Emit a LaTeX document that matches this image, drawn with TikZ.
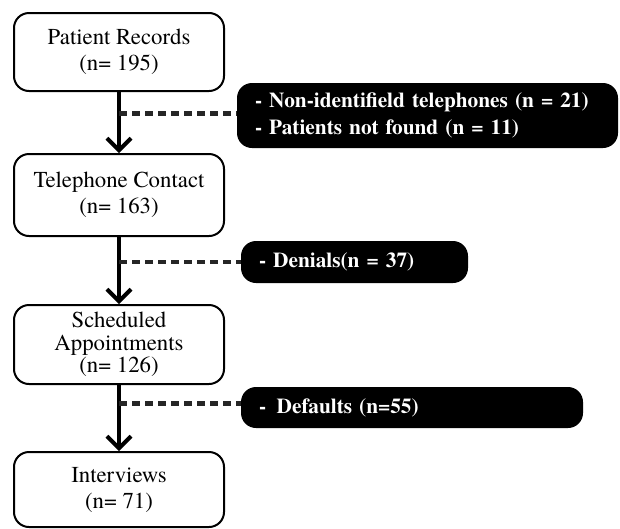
\documentclass[tikz,border=0pt]{standalone}
\usepackage{fontspec}
\setmainfont{texgyretermes}[Extension=.otf, UprightFont=*-regular, BoldFont=*-bold, ItalicFont=*-italic, BoldItalicFont=*-bolditalic]
\usetikzlibrary{arrows.meta}
\begin{document}
\begin{tikzpicture}[x=1pt,y=-1pt,
  stage/.style={draw=black, line width=2pt, rounded corners=15pt, fill=white,
    minimum width=210pt, align=center, inner sep=0pt,
    font=\fontsize{22.8}{26}\selectfont},
  excl/.style={fill=black, rounded corners=15pt, text=white, align=left,
    inner xsep=18pt, inner ysep=0pt, font=\bfseries\fontsize{21.3}{27}\selectfont},
  flow/.style={line width=4pt, -{Straight Barb[length=12pt,width=24pt,line width=4pt]}},
  drop/.style={line width=4.5pt, black!85, dash pattern=on 8pt off 5pt}
]
\useasboundingbox (0,0) rectangle (620,528);
\node[stage, minimum height=78pt] (pr) at (119,52) {Patient Records\\(n= 195)};
\node[stage, minimum height=82pt] (tc) at (119,195) {Telephone Contact\\(n= 163)};
\node[stage, minimum height=79pt, font=\fontsize{22.8}{22.5}\selectfont] (sa) at (119,344.5) {Scheduled\\Appointments\\(n= 126)};
\node[stage, minimum height=75pt] (iv) at (119,489.5) {Interviews\\(n= 71)};

\node[excl, text width=345pt, minimum height=65pt] (b1) at (427.5,115.5)
  {- Non-identifield telephones (n = 21)\\- Patients not found (n = 11)};
\node[excl, text width=191pt, minimum height=42pt] (b2) at (354.5,262) {- Denials(n = 37)};
\node[excl, text width=306pt, minimum height=41pt] (b3) at (412,407.5) {-\, Defaults (n=55)};

\draw[flow] (pr.south) -- (tc.north);
\draw[flow] (tc.south) -- (sa.north);
\draw[flow] (sa.south) -- (iv.north);

\draw[drop] ([yshift=2pt]b1.west -| pr.south) -- ([yshift=2pt]b1.west);
\draw[drop] (b2.west -| tc.south) -- (b2.west);
\draw[drop] ([yshift=4pt]b3.west -| sa.south) -- ([yshift=4pt]b3.west);
\end{tikzpicture}
\end{document}
